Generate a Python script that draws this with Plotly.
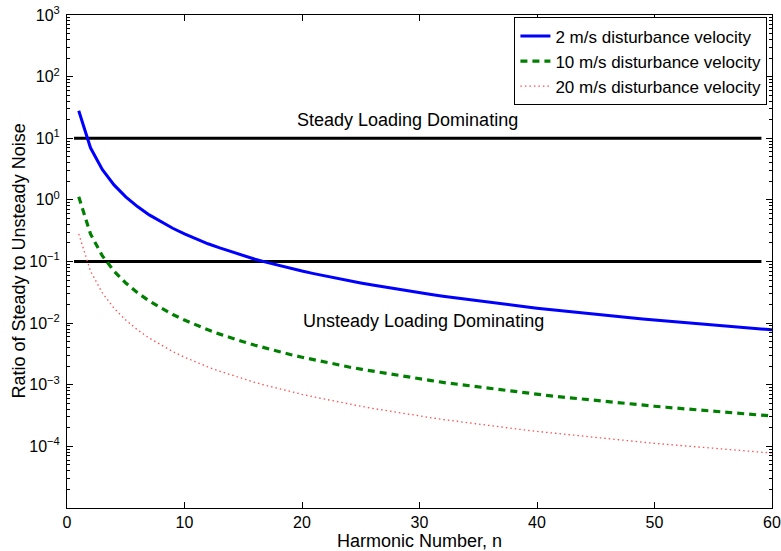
import math
import plotly.graph_objects as go

# Harmonic numbers
harmonic_n = list(range(1, 61))

# Ratio of steady to unsteady noise for each disturbance velocity
ratio_2ms = [28.0, 7.0, 3.11, 1.75, 1.12, 0.778, 0.571, 0.4375, 0.346, 0.28,
             0.231, 0.194, 0.166, 0.143, 0.124, 0.109, 0.0969, 0.0864, 0.0776, 0.070,
             0.0635, 0.0579, 0.0529, 0.0486, 0.0448, 0.0414, 0.0384, 0.0357, 0.0333, 0.0311,
             0.0291, 0.0273, 0.0257, 0.0242, 0.0229, 0.0216, 0.0205, 0.0194, 0.0184, 0.0175,
             0.0167, 0.0159, 0.0151, 0.0145, 0.0138, 0.0132, 0.0127, 0.0122, 0.0117, 0.0112,
             0.0108, 0.0104, 0.00997, 0.0096, 0.00926, 0.00893, 0.00862, 0.00832, 0.00804, 0.00778]

ratio_10ms = [1.12, 0.28, 0.124, 0.070, 0.0448, 0.0311, 0.0229, 0.0175, 0.0138, 0.0112,
              0.00926, 0.00778, 0.00663, 0.00571, 0.00498, 0.00438, 0.00388, 0.00346, 0.0031, 0.0028,
              0.00254, 0.00231, 0.00212, 0.00194, 0.00179, 0.00166, 0.00154, 0.00143, 0.00133, 0.00124,
              0.00117, 0.00109, 0.00103, 0.000969, 0.000914, 0.000864, 0.000818, 0.000776, 0.000736, 0.0007,
              0.000666, 0.000635, 0.000606, 0.000579, 0.000553, 0.000529, 0.000507, 0.000486, 0.000466, 0.000448,
              0.000431, 0.000414, 0.000399, 0.000384, 0.00037, 0.000357, 0.000345, 0.000333, 0.000322, 0.000311]

ratio_20ms = [0.28, 0.07, 0.0311, 0.0175, 0.0112, 0.00778, 0.00571, 0.00438, 0.00346, 0.0028,
              0.00231, 0.00194, 0.00166, 0.00143, 0.00124, 0.00109, 0.000969, 0.000864, 0.000776, 0.0007,
              0.000635, 0.000579, 0.000529, 0.000486, 0.000448, 0.000414, 0.000384, 0.000357, 0.000333, 0.000311,
              0.000291, 0.000273, 0.000257, 0.000242, 0.000229, 0.000216, 0.000205, 0.000194, 0.000184, 0.000175,
              0.000167, 0.000159, 0.000151, 0.000145, 0.000138, 0.000132, 0.000127, 0.000122, 0.000117, 0.000112,
              0.000108, 0.000104, 0.0000997, 0.000096, 0.0000926, 0.0000893, 0.0000862, 0.0000832, 0.0000804, 0.0000778]

series_names = ["2 m/s disturbance velocity",
                "10 m/s disturbance velocity",
                "20 m/s disturbance velocity"]

# Dominance thresholds and the harmonic span they are drawn over
threshold_levels = [10, 0.1]
threshold_span = [0.6, 59.1]

region_labels = ["Steady Loading Dominating", "Unsteady Loading Dominating"]
region_label_n = [29.0, 30.3]
region_label_ratio = [19.6, 0.0107]

# Decade tick labels (10^-4 .. 10^3)
decade_exponents = [-4, -3, -2, -1, 0, 1, 2, 3]

FONT = "Liberation Sans, Arial, Helvetica, sans-serif"

tick_vals = [10.0 ** e for e in decade_exponents]
tick_text = ["10<sup>%s</sup>" % (str(e).replace("-", "\u2212")) for e in decade_exponents]
minor_vals = [m * 10.0 ** e for e in range(-5, 3) for m in range(2, 10)]

fig = go.Figure()

for level in threshold_levels:
    fig.add_trace(go.Scatter(
        x=threshold_span, y=[level, level], mode="lines",
        line=dict(color="black", width=3), showlegend=False, hoverinfo="skip"))

fig.add_trace(go.Scatter(
    x=harmonic_n, y=ratio_2ms, mode="lines", name=series_names[0],
    line=dict(color="rgb(0,0,255)", width=3)))
fig.add_trace(go.Scatter(
    x=harmonic_n, y=ratio_10ms, mode="lines", name=series_names[1],
    line=dict(color="rgb(0,128,0)", width=3.2, dash="7px,5px")))
fig.add_trace(go.Scatter(
    x=harmonic_n, y=ratio_20ms, mode="lines", name=series_names[2],
    line=dict(color="rgb(255,80,80)", width=1.3, dash="1.5px,3px")))

# Region labels (log axis annotations take log10 positions)
for text, xn, yr in zip(region_labels, region_label_n, region_label_ratio):
    fig.add_annotation(x=xn, y=math.log10(yr), xref="x", yref="y", yanchor="middle",
                       text=text, showarrow=False,
                       font=dict(family=FONT, size=18, color="black"))

# Y axis title
fig.add_annotation(x=-0.0695, y=0.5, xref="paper", yref="paper",
                   xanchor="center", yanchor="middle", textangle=-90,
                   text="Ratio of Steady to Unsteady Noise", showarrow=False,
                   font=dict(family=FONT, size=18, color="black"))

fig.update_layout(
    width=781, height=551,
    margin=dict(l=67, r=9, t=15, b=43),
    paper_bgcolor="white", plot_bgcolor="white",
    font=dict(family=FONT, size=16, color="black"),
    showlegend=True,
    legend=dict(x=0.9935, y=0.995, xanchor="right", yanchor="top",
                bgcolor="white", bordercolor="black", borderwidth=1,
                font=dict(family=FONT, size=17), tracegroupgap=0,
                itemwidth=30),
    xaxis=dict(range=[0, 60], dtick=10, tick0=0, automargin=False,
               showline=True, linecolor="black", linewidth=1, mirror="ticks",
               ticks="inside", ticklen=6, tickcolor="black",
               showgrid=False, zeroline=False, ticklabelstandoff=0,
               title=dict(text="Harmonic Number, n", font=dict(size=18), standoff=1),
               tickfont=dict(size=16)),
    yaxis=dict(type="log", range=[-5, 3], automargin=False,
               tickmode="array", tickvals=tick_vals, ticktext=tick_text,
               showline=True, linecolor="black", linewidth=1, mirror="ticks",
               ticks="inside", ticklen=6, tickcolor="black",
               minor=dict(ticks="inside", ticklen=3, tickcolor="black",
                          tickmode="array", tickvals=minor_vals, showgrid=False),
               showgrid=False, zeroline=False, ticklabelstandoff=3,
               tickfont=dict(size=16)),
)

fig.write_html("out.html")
